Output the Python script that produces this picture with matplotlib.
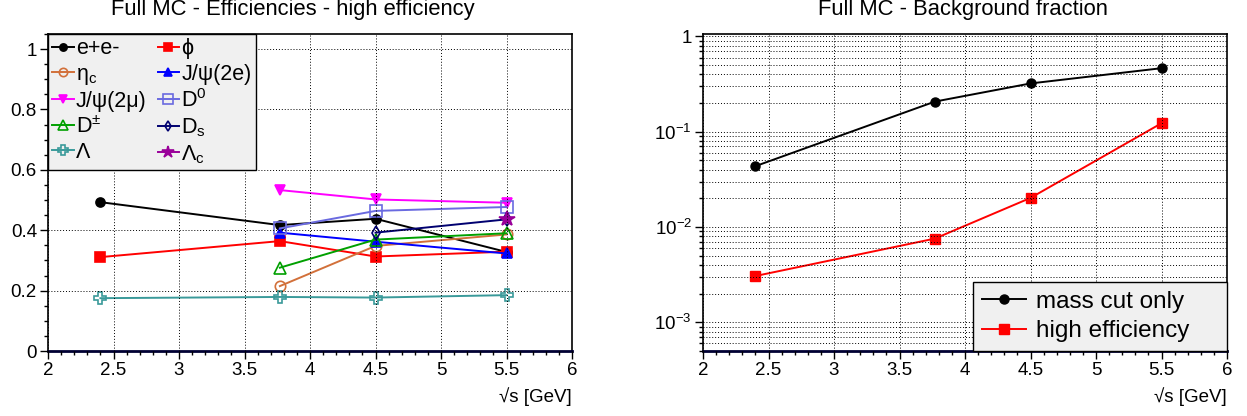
import matplotlib
matplotlib.use("Agg")
import matplotlib.pyplot as plt
import numpy as np
from matplotlib.ticker import MultipleLocator, LogLocator, FuncFormatter, NullFormatter

plt.rcParams['font.family'] = ['Liberation Sans', 'DejaVu Sans']
plt.rcParams['mathtext.fontset'] = 'custom'
plt.rcParams['mathtext.rm'] = 'Liberation Sans'
plt.rcParams['mathtext.it'] = 'Liberation Sans:italic'
plt.rcParams['mathtext.bf'] = 'Liberation Sans:bold'

# ---------------- data ----------------
energies = [2.4, 3.77, 4.5, 5.5]
nan = np.nan
eff_ee = [0.493, 0.417, 0.438, 0.328]
eff_phi = [0.311, 0.364, 0.313, 0.329]
eff_etac = [nan, 0.215, 0.348, 0.386]
eff_jpsi_2e = [nan, 0.392, 0.362, 0.323]
eff_jpsi_2mu = [nan, 0.533, 0.502, 0.491]
eff_d0 = [nan, 0.406, 0.464, 0.477]
eff_dpm = [nan, 0.276, 0.369, 0.390]
eff_ds = [nan, nan, 0.392, 0.436]
eff_lambda = [0.175, 0.179, 0.177, 0.185]
eff_lambdac = [nan, nan, nan, 0.437]

bkg_masscut = [0.0435, 0.207, 0.321, 0.464]
bkg_higheff = [0.00306, 0.00756, 0.0202, 0.1227]

left_title = "Full MC - Efficiencies - high efficiency"
right_title = "Full MC - Background fraction"
xlabel = "\u221as [GeV]"

# --------------- figure ---------------
fig = plt.figure(figsize=(12.47, 4.16), dpi=100)
W, H = 1247.0, 416.0
ax1 = fig.add_axes([48 / W, 1 - 351 / H, (572 - 48) / W, (351 - 34) / H])
ax2 = fig.add_axes([703 / W, 1 - 351 / H, (1227 - 703) / W, (351 - 34) / H])

FS = 13.5
grid_kw = dict(color='black', linestyle=(0, (1, 2)), linewidth=0.7)

series = [
    ("e+e-", eff_ee, dict(color='black', marker='o', ms=6.5, mfc='black')),
    ("\u03b7$_\\mathrm{c}$", eff_etac, dict(color='#d2703a', marker='o', ms=7.5, mfc='none')),
    ("J/\u03c8(2\u03bc)", eff_jpsi_2mu, dict(color='#ff00ff', marker='v', ms=7.5, mfc='#ff00ff')),
    ("D$^{\\pm}$", eff_dpm, dict(color='#00a000', marker='^', ms=8.5, mfc='none')),
    ("\u039b", eff_lambda, dict(color='#3a9a9a', marker='P', ms=8.5, mfc='none')),
    ("\u03d5", eff_phi, dict(color='#ff0000', marker='s', ms=6.5, mfc='#ff0000')),
    ("J/\u03c8(2e)", eff_jpsi_2e, dict(color='#0000ff', marker='^', ms=7.5, mfc='#0000ff')),
    ("D$^{0}$", eff_d0, dict(color='#6a6ae0', marker='s', ms=8.5, mfc='none')),
    ("D$_\\mathrm{s}$", eff_ds, dict(color='#000070', marker='d', ms=7, mfc='none')),
    ("\u039b$_\\mathrm{c}$", eff_lambdac, dict(color='#990099', marker='*', ms=11.5, mfc='#990099')),
]
draw_order = [0, 5, 1, 6, 2, 7, 3, 8, 4, 9]
handles = {}
for i in draw_order:
    lab, vals, st = series[i]
    h, = ax1.plot(energies, vals, lw=1.4, mew=1.2, label=lab, **st)
    handles[i] = h

ax1.set_xlim(2, 6)
ax1.set_ylim(0, 1.05)
ax1.xaxis.set_major_locator(MultipleLocator(0.5))
ax1.xaxis.set_minor_locator(MultipleLocator(0.1))
ax1.yaxis.set_major_locator(MultipleLocator(0.2))
ax1.yaxis.set_minor_locator(MultipleLocator(0.05))
ax1.xaxis.set_major_formatter(FuncFormatter(lambda v, p: f"{v:g}"))
ax1.yaxis.set_major_formatter(FuncFormatter(lambda v, p: f"{v:g}"))
ax1.grid(True, which='major', **grid_kw)

leg1 = ax1.legend([handles[i] for i in range(10)], [series[i][0] for i in range(10)],
                  ncol=2, loc='upper left', bbox_to_anchor=(0, 1), borderaxespad=0,
                  fontsize=15.5, frameon=True, fancybox=False, edgecolor='black',
                  facecolor='#f0f0f0', framealpha=1, handlelength=1.0, handletextpad=0.1,
                  columnspacing=0.5, labelspacing=0.2, borderpad=0.2, markerscale=0.8)
leg1.get_frame().set_linewidth(1.0)

# right panel
ax2.plot(energies, bkg_masscut, color='black', marker='o', ms=6.5, lw=1.4, label='mass cut only')
ax2.plot(energies, bkg_higheff, color='#ff0000', marker='s', ms=6.5, lw=1.4, label='high efficiency')
ax2.set_yscale('log')
ax2.set_xlim(2, 6)
ax2.set_ylim(5e-4, 1.06)
ax2.xaxis.set_major_locator(MultipleLocator(0.5))
ax2.xaxis.set_minor_locator(MultipleLocator(0.1))
ax2.xaxis.set_major_formatter(FuncFormatter(lambda v, p: f"{v:g}"))
ax2.yaxis.set_major_locator(LogLocator(base=10, numticks=10))
ax2.yaxis.set_minor_locator(LogLocator(base=10, subs=np.arange(2, 10), numticks=10))
ax2.yaxis.set_minor_formatter(NullFormatter())


def logfmt(v, p):
    e = int(round(np.log10(v)))
    if e == 0:
        return "1"
    return "10$^{%d}$" % e


ax2.yaxis.set_major_formatter(FuncFormatter(logfmt))
ax2.grid(True, which='major', axis='x', **grid_kw)
ax2.grid(True, which='both', axis='y', **grid_kw)

x0 = (973 - 703) / 524.0
leg2 = ax2.legend(loc='lower left', bbox_to_anchor=(x0, 0, 1 - x0, 0.2), mode='expand',
                  borderaxespad=0,
                  fontsize=17.5, frameon=True, fancybox=False, edgecolor='black',
                  facecolor='#f0f0f0', framealpha=1, handlelength=1.85, handletextpad=0.4,
                  labelspacing=0.32, borderpad=0.35)
leg2.get_frame().set_linewidth(1.0)

for ax in (ax1, ax2):
    ax.tick_params(axis='both', which='major', direction='out', length=6, width=1,
                   labelsize=FS, pad=2)
    ax.tick_params(axis='both', which='minor', direction='out', length=3, width=1)
    for s in ax.spines.values():
        s.set_linewidth(1.2)
        s.set_color('black')
    ax.spines['bottom'].set_linewidth(2.0)
    ax.spines['bottom'].set_color('#000033')
    ax.set_axisbelow(False)
    ax.set_xlabel(xlabel, fontsize=FS, loc='right', labelpad=6)

fig.text(293 / W, 1 - 9 / H, left_title, ha='center', va='center', fontsize=15.8)
fig.text(963 / W, 1 - 9 / H, right_title, ha='center', va='center', fontsize=15.8)

fig.savefig("out.png", dpi=100)
